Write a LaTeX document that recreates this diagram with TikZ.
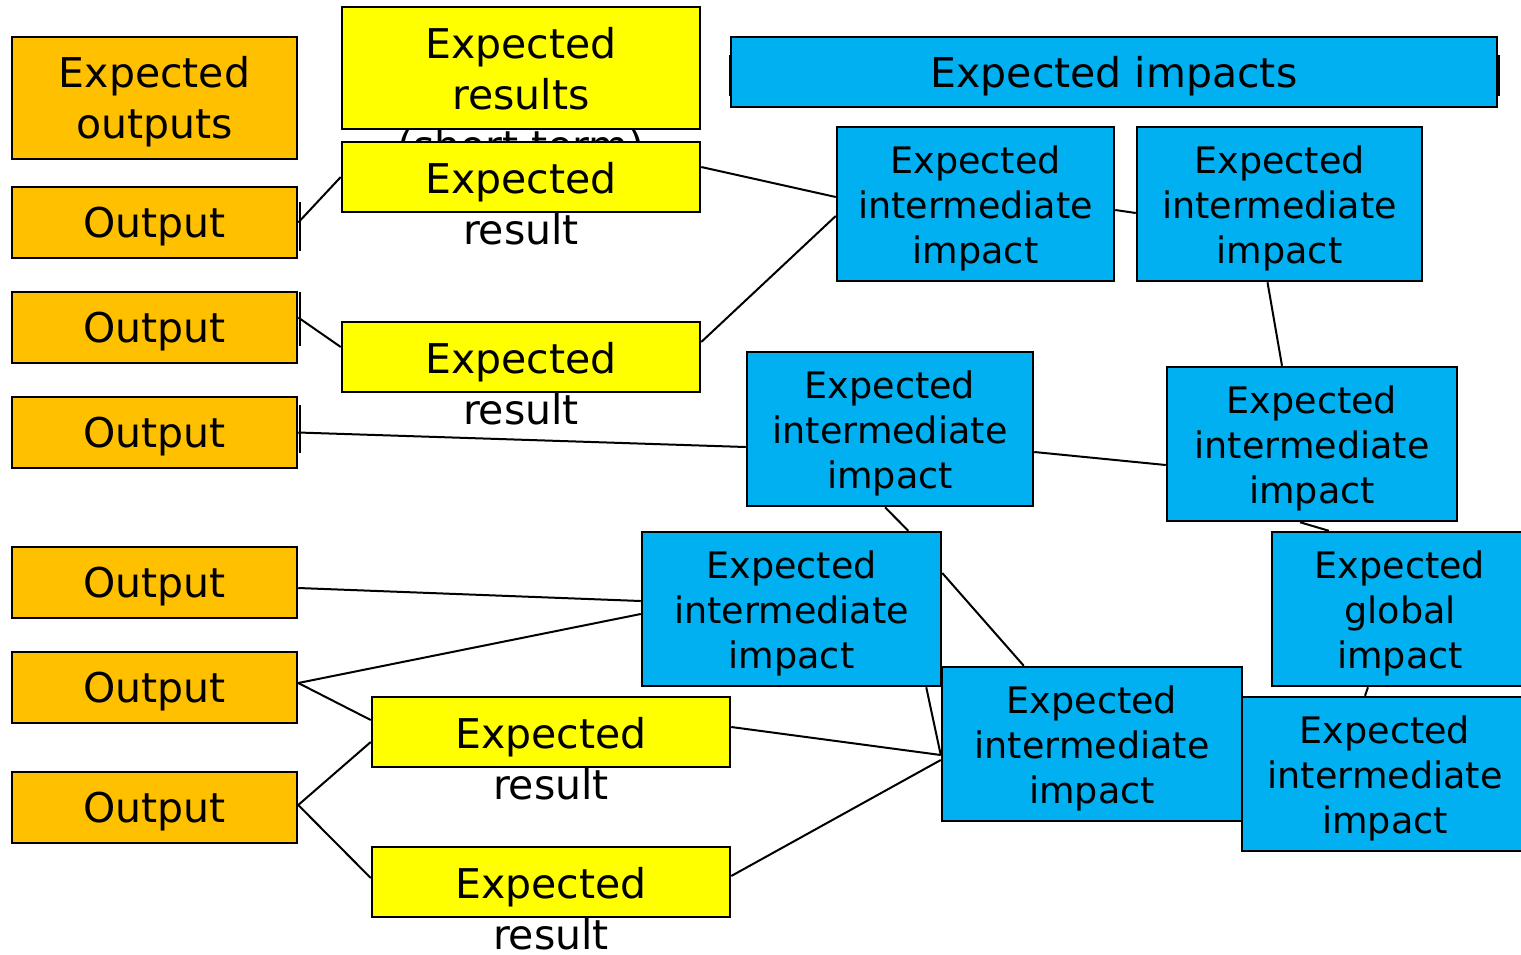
\documentclass[tikz,border=0pt]{standalone}
\usepackage{fontspec}
\setmainfont{DejaVu Sans}
\definecolor{outorange}{HTML}{FFC000}
\definecolor{resyellow}{HTML}{FFFF00}
\definecolor{impblue}{HTML}{00B0F0}
\newcommand{\outstrut}{\rule{0pt}{19.5pt}}
\newcommand{\impstrut}{\rule{0pt}{17.9pt}}

\begin{document}
\begin{tikzpicture}[x=0.5pt,y=-0.5pt,
	box/.style={draw, line width=1.25pt, inner sep=0pt, align=center},
	bigfont/.style={font=\fontsize{20.5pt}{25.5pt}\selectfont},
	outbox/.style={box, bigfont, fill=outorange, minimum width=142.5pt, minimum height=35.5pt},
	resbox/.style={box, fill=resyellow, minimum width=179pt, minimum height=35pt},
	restxt/.style={bigfont, anchor=north, inner sep=0pt, align=center, yshift=-10.5pt},
	impbox/.style={box, fill=impblue, minimum height=77pt, font=\fontsize{18.25pt}{22.5pt}\selectfont},
	conn/.style={line width=1pt},
	bar/.style={line width=1.4pt}]

	\useasboundingbox (0,0) rectangle (1521,954);

	% outputs
	\node [outbox, minimum height=61pt] (O0) at (154.5,98) {\outstrut Expected\\outputs};
	\node [outbox] (O1) at (154.5,222.5) {\outstrut Output};
	\node [outbox] (O2) at (154.5,327.5) {\outstrut Output};
	\node [outbox] (O3) at (154.5,432.5) {\outstrut Output};
	\node [outbox] (O4) at (154.5,582.5) {\outstrut Output};
	\node [outbox] (O5) at (154.5,687.5) {\outstrut Output};
	\node [outbox] (O6) at (154.5,807.5) {\outstrut Output};

	% results
	\node [resbox, minimum height=61pt] (Y0) at (521,68) {};
	\node [restxt] (Y0t) at (Y0.north) {Expected\\results\\(short term)};
	\node [resbox] (Y1) at (521,177) {};
	\node [restxt] (Y1t) at (Y1.north) {Expected\\result};
	\node [resbox] (Y2) at (521,357) {};
	\node [restxt] (Y2t) at (Y2.north) {Expected\\result};
	\node [resbox] (Y3) at (551,732) {};
	\node [restxt] (Y3t) at (Y3.north) {Expected\\result};
	\node [resbox] (Y4) at (551,882) {};
	\node [restxt] (Y4t) at (Y4.north) {Expected\\result};

	% impacts
	\node [impbox, bigfont, minimum width=383pt, minimum height=35pt] (B0) at (1114,72) {\outstrut Expected impacts};
	\node [impbox, minimum width=138.5pt] (B1) at (975.5,204) {\impstrut Expected\\intermediate\\impact};
	\node [impbox, minimum width=142.5pt] (B2) at (1279.5,204) {\impstrut Expected\\intermediate\\impact};
	\node [impbox, minimum width=143pt] (B3) at (890,429) {\impstrut Expected\\intermediate\\impact};
	\node [impbox, minimum width=145pt] (B4) at (1312,444) {\impstrut Expected\\intermediate\\impact};
	\node [impbox, minimum width=149.5pt] (B5) at (791.5,609) {\impstrut Expected\\intermediate\\impact};
	\node [impbox, minimum width=128pt] (B6) at (1400,609) {\impstrut Expected\\global\\impact};
	\node [impbox, minimum width=150pt] (B7) at (1092,744) {\impstrut Expected\\intermediate\\impact};
	\node [impbox, minimum width=143pt] (B8) at (1385,774) {\impstrut Expected\\intermediate\\impact};

	\draw [bar] (300,202) -- (300,251);
	\draw [bar] (300,292) -- (300,346);
	\draw [bar] (300,405) -- (300,453);
	\draw [bar] (730,55) -- (730,96);
	\draw [bar] (1499,55) -- (1499,96);

	% links
	\draw [conn] (O1.east) -- (Y1.west);
	\draw [conn] ([yshift=5pt]O2.east) -- ([yshift=5pt]Y2.west);
	\draw [conn] ([yshift=5pt]Y1.east) -- ([yshift=3.5pt]B1.west);
	\draw [conn] ([yshift=7.5pt]Y2.east) -- ([yshift=-6pt]B1.west);
	\draw [conn] ([yshift=-3pt]B1.east) -- ([yshift=-4.5pt]B2.west);
	\draw [conn] ([xshift=-6pt]B2.south) -- ([xshift=-15pt]B4.north);
	\draw [conn] (O3.east) -- ([yshift=-9pt]B3.west);
	\draw [conn] ([yshift=-11.5pt]B3.east) -- ([yshift=-10.5pt]B4.west);
	\draw [conn] ([xshift=-2.5pt]B3.south) -- ([xshift=-17pt]B5.north east);
	\draw [conn] ([yshift=18pt]B5.east) -- ([xshift=41.5pt]B7.north west);
	\draw [conn] ([xshift=-8pt]B5.south east) -- ([yshift=-5.5pt]B7.west);
	\draw [conn] ([xshift=-6pt]B4.south) -- ([xshift=29pt]B6.north west);
	\draw [conn] ([xshift=-16pt]B6.south) -- ([xshift=-10pt]B8.north);
	\draw [conn] ([yshift=-2.75pt]O4.east) -- ([yshift=4pt]B5.west);
	\draw [conn] ([yshift=2.25pt]O5.east) -- ([yshift=-2.5pt]B5.west);
	\draw [conn] ([yshift=2.25pt]O5.east) -- ([yshift=6pt]Y3.west);
	\draw [conn] ([yshift=1.25pt]O6.east) -- ([yshift=-5pt]Y3.west);
	\draw [conn] ([yshift=1.25pt]O6.east) -- ([yshift=2pt]Y4.west);
	\draw [conn] ([yshift=2.5pt]Y3.east) -- ([yshift=-5.5pt]B7.west);
	\draw [conn] ([yshift=3pt]Y4.east) -- ([yshift=-8pt]B7.west);
\end{tikzpicture}
\end{document}
